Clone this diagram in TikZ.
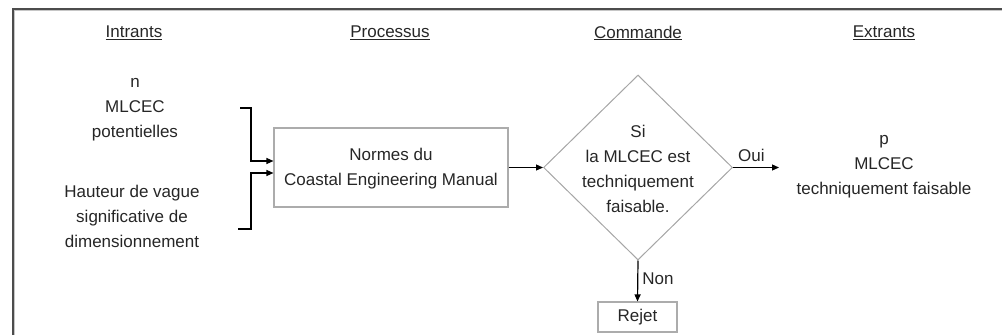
\documentclass[tikz,border=0pt]{standalone}
\usepackage{fontspec}
\setmainfont{Liberation Sans}
\usetikzlibrary{shapes.geometric,arrows.meta,calc}
\tikzset{
  txt/.style={font=\fontsize{17}{25}\selectfont, align=center, inner sep=0pt, text=black!85},
  hdr/.style={txt},
  procbox/.style={draw=gray!65, line width=1.1pt, minimum width=234pt, minimum height=79pt, inner sep=0pt},
  decision/.style={diamond, draw=gray!70, line width=1pt, minimum width=189pt, minimum height=185pt, inner sep=0pt},
  rejbox/.style={draw=gray!65, line width=1.1pt, minimum width=79pt, minimum height=30pt, inner sep=0pt},
  arr/.style={line width=1.2pt, black, -{Triangle[length=7pt,width=6pt]}},
  frame/.style={line width=2pt, black!70}
}
\begin{document}
\begin{tikzpicture}[x=1pt,y=-1pt]
\useasboundingbox (0,0) rectangle (1002,335);
% frame
\draw[line width=1pt, gray!45] (14.8,335) -- (14.8,10.3) -- (1002,10.3);
\draw[frame] (12.5,335) -- (12.5,8.5) -- (1002,8.5);
% headers
\node[hdr] (hin)  at (134,33) {\underline{Intrants}};
\node[hdr] (hpro) at (390,33) {\underline{Processus}};
\node[hdr] (hcom) at (638,33) {\underline{Commande}};
\node[hdr] (hext) at (884,33) {\underline{Extrants}};
% inputs
\node[txt] (in1) at (135,110) {n\\MLCEC\\potentielles};
\node[txt] (in2) at (132,216) {Hauteur de vague\\significative de\\dimensionnement};
% process
\node[procbox] (box) at (391,167.5) {};
\node[txt] (boxtxt) at (391,168.5) {Normes du\\Coastal Engineering Manual};
% decision
\node[decision] (dec) at (638,167.5) {};
\node[txt] (dectxt) at (638,168.5) {Si\\la MLCEC est\\techniquement\\faisable.};
% reject
\node[rejbox] (rej) at (637.5,317) {};
\node[txt] (rejtxt) at (637.5,317.5) {Rejet};
% outputs
\node[txt] (out) at (884,167) {p\\MLCEC\\techniquement faisable};
% connectors
\coordinate (s1) at (240,108);
\coordinate (s2) at (238,229);
\coordinate (jx) at (251,0);
\draw[arr] (s1) -- (s1 -| jx) |- ($(box.west)+(0,-6.5)$);
\draw[arr] (s2) -- (s2 -| jx) |- ($(box.west)+(0,5.5)$);
\draw[arr] (box.east) -- (dec.west);
\coordinate (oe) at (779,167.5);
\draw[arr] (dec.east) -- (oe) node[txt, pos=0.4, above=5pt] {Oui};
\draw[arr] (dec.south) -- (rej.north) node[txt, pos=0.45, right=4pt] {Non};
\end{tikzpicture}
\end{document}
